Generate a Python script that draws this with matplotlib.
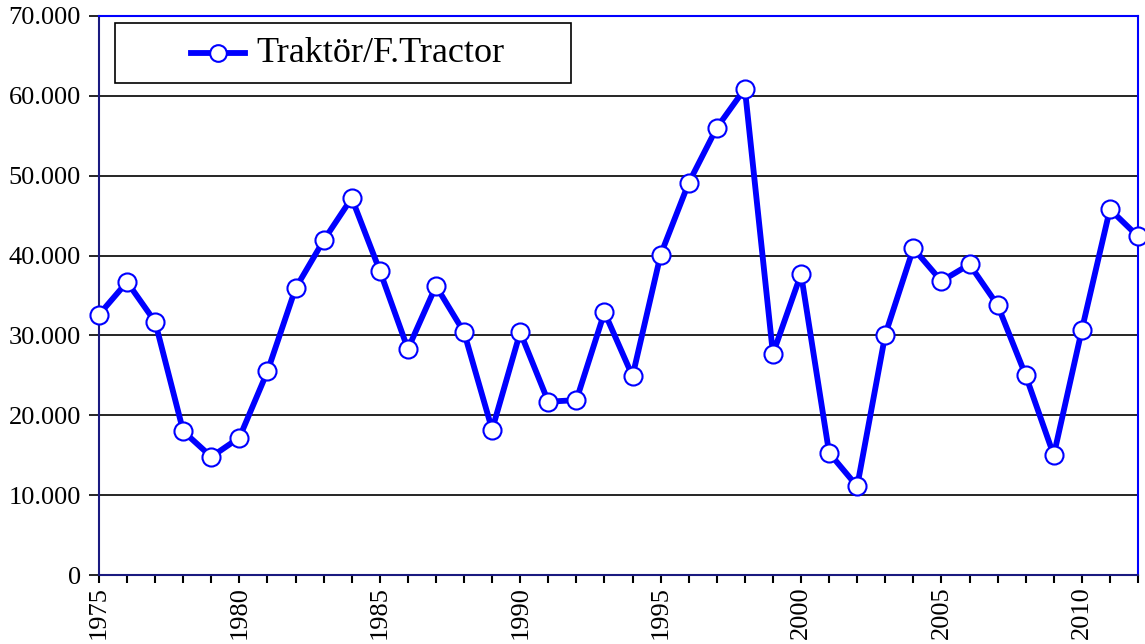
import matplotlib.pyplot as plt
from matplotlib.patches import Rectangle
from matplotlib.lines import Line2D
from matplotlib.ticker import FuncFormatter, MultipleLocator

years = list(range(1975, 2013))
tractors = [
    32600, 36700, 31700, 18000, 14800, 17200, 25500, 35900, 41900, 47200,
    38100, 28300, 36200, 30400, 18200, 30400, 21700, 21900, 32900, 24900,
    40100, 49100, 56000, 60900, 27700, 37700, 15300, 11100, 30100, 40900,
    36800, 38900, 33800, 25000, 15000, 30700, 45800, 42400,
]
series_label = "Traktör/F.Tractor"

plt.rcParams['font.family'] = ['Liberation Serif', 'DejaVu Serif']

W, H = 1145, 644
fig = plt.figure(figsize=(W / 100, H / 100), dpi=100)
ax = fig.add_axes([99 / W, 1 - 575 / H, (1138 - 99) / W, (575 - 16) / H])

ax.plot(years, tractors, color='#0000ff', lw=4.2, marker='o', ms=13,
        mfc='white', mec='#0000ff', mew=1.5, zorder=3, clip_on=False)

ax.set_xlim(1975, 2012)
ax.set_ylim(0, 70000)
ax.yaxis.set_major_locator(MultipleLocator(10000))
ax.yaxis.set_major_formatter(FuncFormatter(lambda v, p: f"{int(v):,}".replace(",", ".")))
ax.xaxis.set_major_locator(MultipleLocator(5))
ax.xaxis.set_minor_locator(MultipleLocator(1))
ax.grid(axis='y', color='black', lw=1.2)
ax.set_axisbelow(True)

for lab in ax.get_xticklabels():
    lab.set_rotation(90)
ax.tick_params(axis='x', which='both', direction='out', length=6, width=1.5,
               labelsize=19, pad=2)
ax.tick_params(axis='y', direction='out', length=7, width=1.2, labelsize=19, pad=6)

ax.spines['left'].set_color('#1a1a80')
ax.spines['bottom'].set_color('#1a1a80')
ax.spines['top'].set_color('#0000ff')
ax.spines['right'].set_color('#0000ff')
for s in ax.spines.values():
    s.set_linewidth(1.5)

# legend box drawn by hand in figure pixels
def fx(px):
    return px / W

def fy(py):
    return 1 - py / H

fig.patches.append(Rectangle((fx(115), fy(83)), fx(571) - fx(115), fy(23) - fy(83),
                             transform=fig.transFigure, fill=True, facecolor='white',
                             edgecolor='black', lw=1.2, zorder=5))
fig.add_artist(Line2D([fx(191), fx(245)], [fy(53), fy(53)], color='#0000ff', lw=4.2,
                      zorder=6))
fig.add_artist(Line2D([fx(218)], [fy(53)], marker='o', ms=12, mfc='white',
                      mec='#0000ff', mew=1.5, zorder=7))
fig.text(fx(256), fy(54), series_label, fontsize=26, va='center', ha='left', zorder=8)

fig.savefig('out.png', dpi=100)
